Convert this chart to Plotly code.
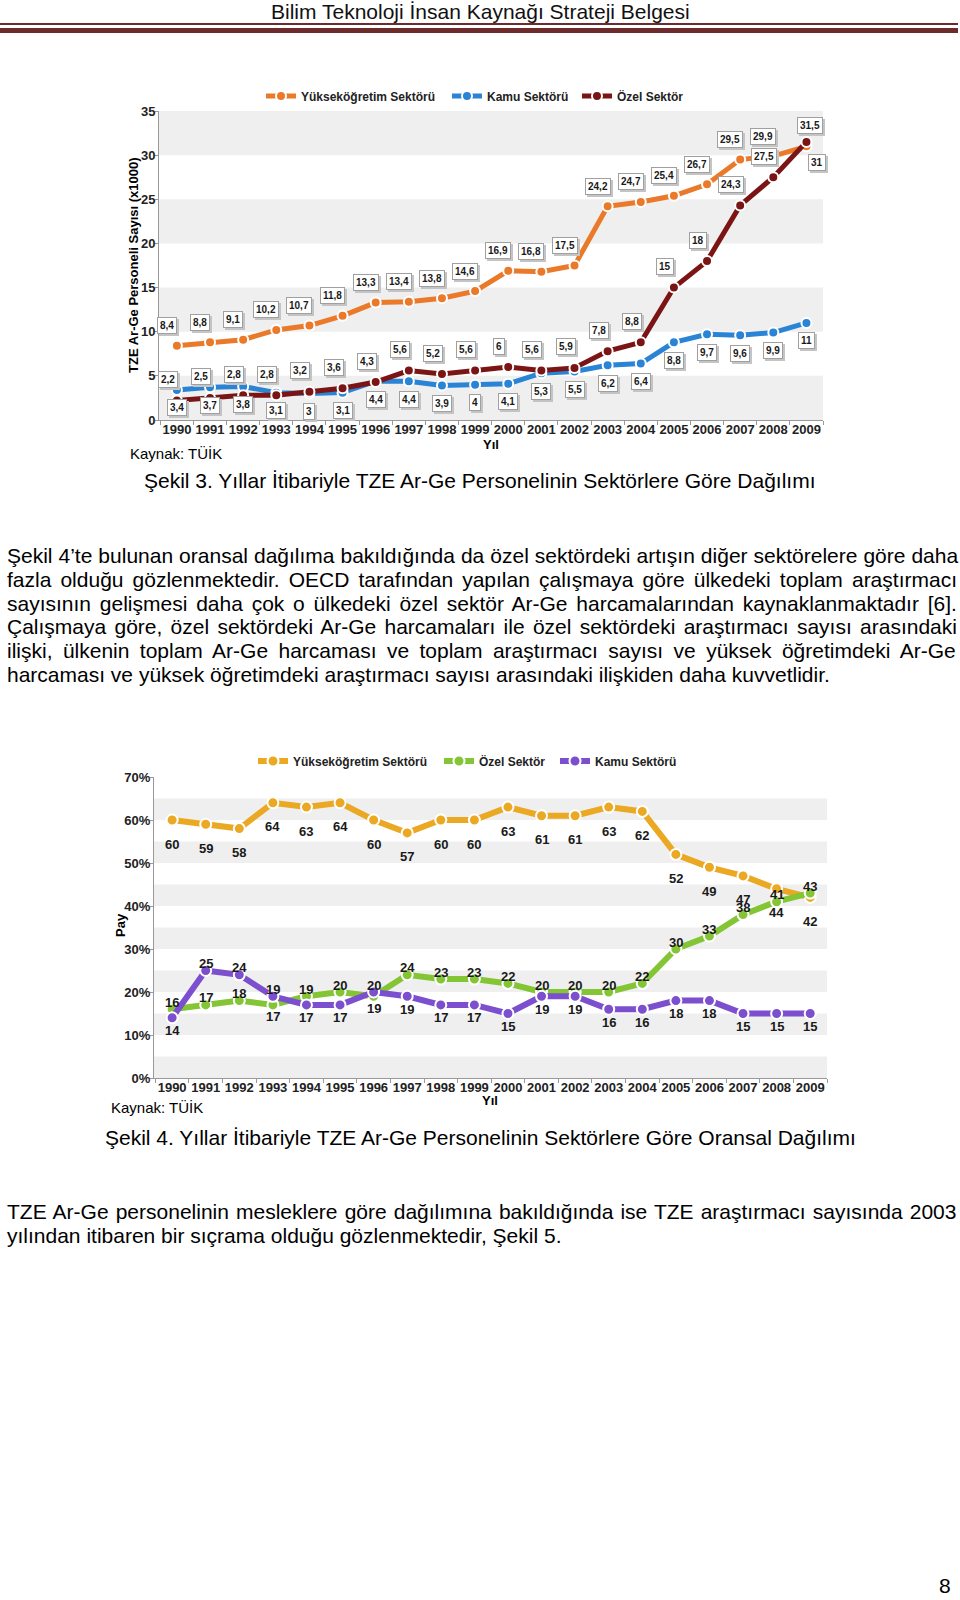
import plotly.graph_objects as go

# ---------------- data ----------------
years = list(range(1990, 2010))

# Figure 3: personnel counts (x1000)
yuksek_sayi = [8.4, 8.8, 9.1, 10.2, 10.7, 11.8, 13.3, 13.4, 13.8, 14.6, 16.9, 16.8, 17.5, 24.2, 24.7, 25.4, 26.7, 29.5, 29.9, 31]
kamu_sayi = [3.4, 3.7, 3.8, 3.1, 3, 3.1, 4.4, 4.4, 3.9, 4, 4.1, 5.3, 5.5, 6.2, 6.4, 8.8, 9.7, 9.6, 9.9, 11]
ozel_sayi = [2.2, 2.5, 2.8, 2.8, 3.2, 3.6, 4.3, 5.6, 5.2, 5.6, 6, 5.6, 5.9, 7.8, 8.8, 15, 18, 24.3, 27.5, 31.5]
y1_ticks = [0, 5, 10, 15, 20, 25, 30, 35]

# Figure 4: shares (%)
yuksek_pay = [60, 59, 58, 64, 63, 64, 60, 57, 60, 60, 63, 61, 61, 63, 62, 52, 49, 47, 44, 42]
ozel_pay = [16, 17, 18, 17, 19, 20, 19, 24, 23, 23, 22, 20, 20, 20, 22, 30, 33, 38, 41, 43]
kamu_pay = [14, 25, 24, 19, 17, 17, 20, 19, 17, 17, 15, 19, 19, 16, 16, 18, 18, 15, 15, 15]
y2_ticks = [0, 10, 20, 30, 40, 50, 60, 70]

header = "Bilim Teknoloji İnsan Kaynağı Strateji Belgesi"
cap3 = "Şekil 3. Yıllar İtibariyle TZE Ar-Ge Personelinin Sektörlere Göre Dağılımı"
cap4 = "Şekil 4. Yıllar İtibariyle TZE Ar-Ge Personelinin Sektörlere Göre Oransal Dağılımı"
source = "Kaynak: TÜİK"
para1 = [
    "Şekil 4’te bulunan oransal dağılıma bakıldığında da özel sektördeki artışın diğer sektörelere göre daha",
    "fazla olduğu gözlenmektedir. OECD tarafından yapılan çalışmaya göre ülkedeki toplam araştırmacı",
    "sayısının gelişmesi daha çok o ülkedeki özel sektör Ar-Ge harcamalarından kaynaklanmaktadır [6].",
    "Çalışmaya göre, özel sektördeki Ar-Ge harcamaları ile özel sektördeki araştırmacı sayısı arasındaki",
    "ilişki, ülkenin toplam Ar-Ge harcaması ve toplam araştırmacı sayısı ve yüksek öğretimdeki Ar-Ge",
    "harcaması ve yüksek öğretimdeki araştırmacı sayısı arasındaki ilişkiden daha kuvvetlidir.",
]
para2 = [
    "TZE Ar-Ge personelinin mesleklere göre dağılımına bakıldığında ise TZE araştırmacı sayısında 2003",
    "yılından itibaren bir sıçrama olduğu gözlenmektedir, Şekil 5.",
]

# ---------------- helpers ----------------
W, H = 960, 1600
FONT = "Liberation Sans, Arial, sans-serif"

# approximate Arial / Liberation Sans advance widths (1/1000 em) for justification
_wd = {" ": 278, ",": 278, ".": 278, "-": 333, "[": 278, "]": 278, "’": 222, "'": 191}
_wd.update({c: 556 for c in "0123456789"})
_wd.update(dict(zip("abcdefghijklmnopqrstuvwxyz",
                    [556, 556, 500, 556, 556, 278, 556, 556, 222, 222, 500, 222, 833, 556, 556, 556, 556,
                     333, 500, 278, 556, 500, 722, 500, 500, 500])))
_wd.update(dict(zip("ABCDEFGHIJKLMNOPQRSTUVWXYZ",
                    [667, 667, 722, 722, 667, 611, 778, 722, 278, 500, 667, 556, 833, 722, 778, 667, 778,
                     722, 667, 611, 722, 667, 944, 667, 667, 611])))
_wd.update({"ç": 500, "ğ": 556, "ı": 278, "ö": 556, "ş": 500, "ü": 556,
            "Ç": 722, "Ş": 667, "İ": 278, "Ö": 778, "Ü": 722})


def text_width(s, size):
    return sum(_wd.get(c, 556) for c in s) * size / 1000.0


def px(x):
    return x / W


def py(y):
    return 1 - y / H


def fmt(v):
    return f"{v:g}".replace(".", ",")


C_OR, C_BL, C_DR = "#EA7A2A", "#2A84D6", "#7B1515"
C_YE, C_GR, C_PU = "#EBA823", "#84C535", "#7C4FCF"
AXC = "#222222"

fig = go.Figure()


def add_line(name, vals, color, xa, ya, legend, lw, ms):
    fig.add_trace(go.Scatter(
        x=years, y=vals, name=name, mode="lines+markers",
        line=dict(color=color, width=lw),
        marker=dict(size=ms, color=color, line=dict(color="white", width=2)),
        xaxis=xa, yaxis=ya, legend=legend, hoverinfo="skip"))


add_line("Kamu Sektörü", kamu_sayi, C_BL, "x", "y", "legend2", 5, 10)
add_line("Yükseköğretim Sektörü", yuksek_sayi, C_OR, "x", "y", "legend", 5, 10)
add_line("Özel Sektör", ozel_sayi, C_DR, "x", "y", "legend3", 5, 10)

add_line("Yükseköğretim Sektörü", yuksek_pay, C_YE, "x2", "y2", "legend4", 6, 11)
add_line("Özel Sektör", ozel_pay, C_GR, "x2", "y2", "legend5", 6, 11)
add_line("Kamu Sektörü", kamu_pay, C_PU, "x2", "y2", "legend6", 6, 11)

annotations = []
shapes = []


# ---------- chart 1 labels (boxed, with drop shadow) ----------
def boxed(x, v, xs, ys):
    t = fmt(v)
    annotations.append(dict(x=x, y=v, xref="x", yref="y", text=t, showarrow=False,
                            xshift=xs + 2, yshift=ys - 2,
                            font=dict(family=FONT, size=10, color="#c4c4c4", weight="bold"),
                            bgcolor="#c4c4c4", bordercolor="#c4c4c4", borderwidth=1, borderpad=2))
    annotations.append(dict(x=x, y=v, xref="x", yref="y", text=t, showarrow=False,
                            xshift=xs, yshift=ys,
                            font=dict(family=FONT, size=10, color="#1a1a1a", weight="bold"),
                            bgcolor="white", bordercolor="#a0a0a0", borderwidth=1, borderpad=2))


for i, yr in enumerate(years):
    top_is_ozel = ozel_sayi[i] > yuksek_sayi[i]
    if top_is_ozel:
        boxed(yr, yuksek_sayi[i], 11, -16)
        boxed(yr, ozel_sayi[i], 4, 16)
    else:
        boxed(yr, yuksek_sayi[i], -10, 20)
        boxed(yr, ozel_sayi[i], -9, 21)
    boxed(yr, kamu_sayi[i], 0, -18)


# ---------- chart 2 labels ----------
def plain(x, v, ys):
    annotations.append(dict(x=x, y=v, xref="x2", yref="y2", text=fmt(v), showarrow=False,
                            yshift=ys, font=dict(family=FONT, size=13, color="#1a1a1a", weight="bold")))


for i, yr in enumerate(years):
    plain(yr, yuksek_pay[i], -24)
    g, p = ozel_pay[i], kamu_pay[i]
    if p > g:
        plain(yr, p, 7)
        plain(yr, g, -12 if p - g <= 3 else 7)
    else:
        plain(yr, g, 7)
        plain(yr, p, -13)

# ---------- bands ----------
for b in y1_ticks[::2]:
    shapes.append(dict(type="rect", xref="x domain", yref="y", x0=0, x1=1, y0=b, y1=b + 5,
                       fillcolor="#EFEFEF", line_width=0, layer="below"))
for b in y2_ticks[:-1]:
    shapes.append(dict(type="rect", xref="x2 domain", yref="y2", x0=0, x1=1, y0=b, y1=b + 5,
                       fillcolor="#EFEFEF", line_width=0, layer="below"))

# ---------- header ----------
annotations.append(dict(x=px(480), y=py(12), xref="paper", yref="paper", text=header, showarrow=False,
                        xanchor="center", yanchor="middle",
                        font=dict(family="Liberation Sans Narrow, Arial Narrow, Liberation Sans",
                                  size=21, color="#111")))
shapes.append(dict(type="rect", xref="paper", yref="paper", x0=0, x1=px(958), y0=py(25), y1=py(23),
                   fillcolor="#6E2B2B", line_width=0))
shapes.append(dict(type="rect", xref="paper", yref="paper", x0=0, x1=px(958), y0=py(33), y1=py(28),
                   fillcolor="#6E2B2B", line_width=0))


def text(x, y, s, size=21, anchor="left", bold=False, angle=0):
    annotations.append(dict(x=px(x), y=py(y), xref="paper", yref="paper", text=s, showarrow=False,
                            xanchor=anchor, yanchor="middle", textangle=angle,
                            font=dict(family=FONT, size=size, color="#000",
                                      weight="bold" if bold else "normal")))


def justified(x0, x1, y, s, size=21):
    nat = text_width(s, size)
    n = s.count(" ")
    ws = (x1 - x0 - nat) / n if n else 0
    ws = max(ws, -1.5)
    text(x0, y, f"<span style='word-spacing:{ws:.2f}px'>{s}</span>", size=size)


# axis titles
text(133, 265, "TZE Ar-Ge Personeli Sayısı (x1000)", size=13, anchor="center", bold=True, angle=-90)
text(491, 445, "Yıl", size=13, anchor="center", bold=True)
text(120, 925, "Pay", size=13, anchor="center", bold=True, angle=-90)
text(490, 1100, "Yıl", size=13, anchor="center", bold=True)

# sources and captions
text(128, 453, source, size=15)
text(109, 1107, source, size=15)
text(480, 481, cap3, anchor="center")
text(480, 1137, cap4, anchor="center")

for k, line in enumerate(para1):
    yy = 556 + k * 23.6
    if k < len(para1) - 1:
        justified(5, 956, yy, line)
    else:
        text(5, yy, line)
for k, line in enumerate(para2):
    yy = 1211 + k * 24.5
    if k < len(para2) - 1:
        justified(5, 956, yy, line)
    else:
        text(5, yy, line)
text(945, 1585, "8", anchor="center")

# ---------- axes ----------
tickfont = dict(family=FONT, size=13, color=AXC, weight="bold")
xcommon = dict(type="linear", range=[1989.46, 2009.5], tickmode="array", tickvals=years,
               ticktext=[str(y) for y in years], tickangle=0, ticklabelstandoff=-3,
               showline=True, linecolor="#999", linewidth=1, ticks="",
               minor=dict(tick0=1989.5, dtick=1, ticks="outside", ticklen=4, tickcolor="#999", showgrid=False),
               showgrid=False, tickfont=tickfont, zeroline=False, fixedrange=True, automargin=False)
ycommon = dict(showline=True, linecolor="#999", ticks="outside", ticklen=3, tickcolor="#999",
               ticklabelstandoff=-3,
               showgrid=False, zeroline=False, tickfont=tickfont, automargin=False, tickmode="array")


def leg(text_x, y):
    return dict(orientation="h", x=px(text_x - 41), xanchor="left", y=py(y), yanchor="middle",
                font=dict(family=FONT, size=12, color=AXC, weight="bold"), bgcolor="rgba(0,0,0,0)",
                itemwidth=30, borderwidth=0)


fig.update_layout(
    template="none",
    width=W, height=H, autosize=False,
    margin=dict(l=0, r=0, t=0, b=0, pad=0, autoexpand=False),
    paper_bgcolor="white", plot_bgcolor="white",
    xaxis=dict(domain=[px(159), px(823)], anchor="y", **xcommon),
    yaxis=dict(domain=[py(420), py(111)], anchor="x", range=[0, 35], tickvals=y1_ticks,
               ticktext=[str(v) for v in y1_ticks], **ycommon),
    xaxis2=dict(domain=[px(154), px(827)], anchor="y2", **xcommon),
    yaxis2=dict(domain=[py(1078), py(777)], anchor="x2", range=[0, 70], tickvals=y2_ticks,
                ticktext=[f"{v}%" for v in y2_ticks], **ycommon),
    legend=leg(302, 96),
    legend2=leg(488, 96),
    legend3=leg(618, 96),
    legend4=leg(294, 761),
    legend5=leg(480, 761),
    legend6=leg(596, 761),
    annotations=annotations,
    shapes=shapes,
    showlegend=True,
)

fig.write_html("out.html", config={"displayModeBar": False},
               post_script="document.body.style.margin='0';document.documentElement.style.overflow='hidden';")
